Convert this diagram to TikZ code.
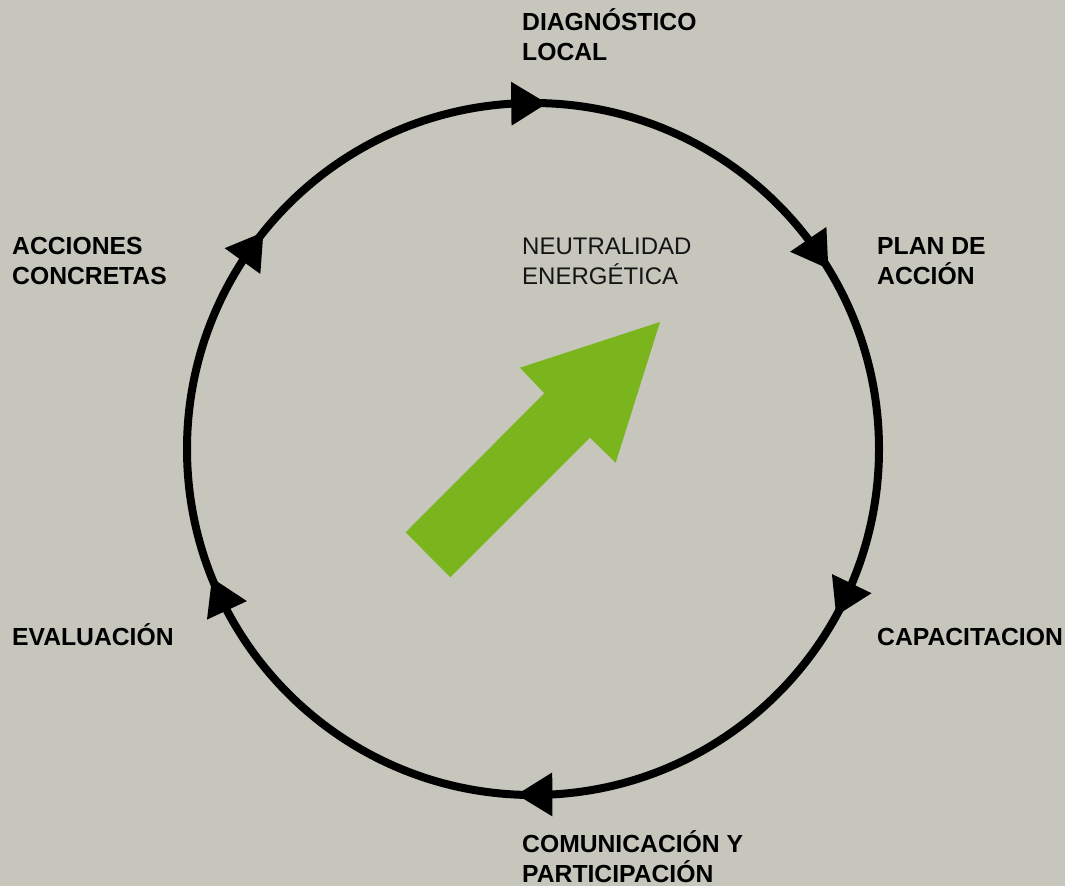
\documentclass[tikz,border=0pt]{standalone}
\usepackage{fontspec}
\setmainfont{Liberation Sans}
\usetikzlibrary{calc}
\definecolor{bg}{RGB}{198,198,189}
\definecolor{leaf}{RGB}{122,181,30}
\definecolor{ink}{RGB}{20,20,20}
\tikzset{
  lab/.style={anchor=base west, inner sep=0pt, align=left, font=\fontsize{24.7}{29.5}\selectfont\bfseries, text=black},
  mid/.style={anchor=base west, inner sep=0pt, align=left, font=\fontsize{24}{29.5}\selectfont, text=ink},
  ring/.style={draw=black, line width=8pt, circle, minimum size=692pt, inner sep=0pt},
  head/.style={fill=black, draw=none},
  bigarrow/.style={fill=leaf, draw=none}
}
\newcommand{\ringhead}[1]{%
  \coordinate (t) at ($(c)+(#1:346pt)$);
  \coordinate (b) at ($(c)+(#1+5.9:346pt)$);
  \fill[head] (t) -- ($(b)!22pt!90:(t)$) -- ($(b)!22pt!-90:(t)$) -- cycle;
}
\begin{document}
\begin{tikzpicture}[x=1pt,y=1pt]
\useasboundingbox (0,0) rectangle (1065,-886);
\fill[bg] (0,0) rectangle (1065,-886);
\coordinate (c) at (533,-449);
\node[ring] (circ) at (c) {};
\ringhead{87.7}
\ringhead{31.4}
\ringhead{-28.8}
\ringhead{-92.7}
\ringhead{-158.1}
\ringhead{141.2}
\fill[bigarrow] (405.7,-532.3) -- (450.3,-577.3) -- (590,-437.7) -- (615.7,-462.7) -- (660,-322) -- (520,-367.7) -- (544.3,-393.3) -- cycle;
\node[lab] (diag) at (522,-60) {DIAGNÓSTICO\\LOCAL};
\node[lab] (plan) at (877,-284) {PLAN DE\\ACCIÓN};
\node[lab] (capa) at (877,-645) {CAPACITACION};
\node[lab] (comu) at (522,-882) {COMUNICACIÓN Y\\PARTICIPACIÓN};
\node[lab] (eval) at (12,-645) {EVALUACIÓN};
\node[lab] (acc) at (12,-284) {ACCIONES\\CONCRETAS};
\node[mid] (neut) at (522,-284) {NEUTRALIDAD\\ENERGÉTICA};
\end{tikzpicture}
\end{document}
